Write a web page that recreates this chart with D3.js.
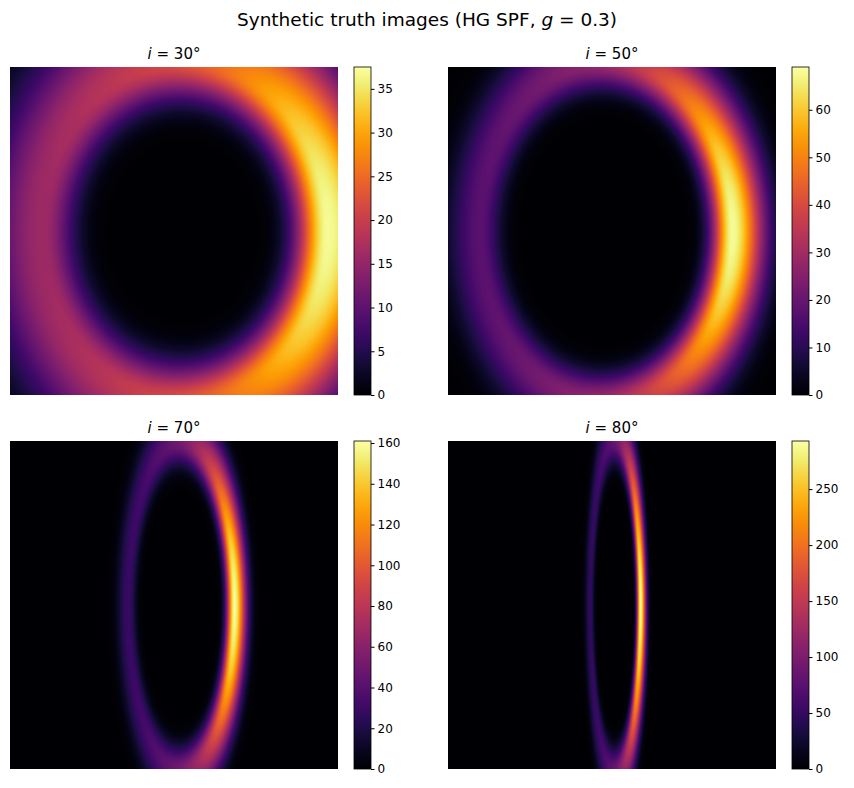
<!DOCTYPE html>
<html><head><meta charset="utf-8">
<script src="https://cdn.jsdelivr.net/npm/d3@7"></script>
<style>body{margin:0;background:#fff;font-family:"DejaVu Sans",sans-serif}</style>
</head><body>
<svg id="fig" width="854" height="788"></svg>
<script>
// Panel data
const inclinations = [30, 50, 70, 80];
const colorMax = [37.5, 69, 161, 293];
const tickStep = [5, 10, 20, 50];
const ringCenterX = [175, 158, 171, 167];   // image pixels from left edge
const ringSemiX = [142, 126, 53, 25];
const ringSemiY = [170, 170, 164, 166];
const ringWidthIn = [0.15, 0.11, 0.1, 0.1];
const ringWidthOut = [0.28, 0.17, 0.15, 0.15];
const asymmetryG = 0.3;

const svg = d3.select('#fig');
const size = 328;
const panelX = [10, 448, 10, 448];
const panelY = [67, 67, 441, 441];

svg.append('text').attr('x', 427).attr('y', 26).attr('text-anchor', 'middle')
    .style('font-size', '18.5px')
    .html('Synthetic truth images (HG SPF, <tspan font-style="italic">g</tspan> = 0.3)');

const defs = svg.append('defs');
const grad = defs.append('linearGradient').attr('id', 'cb')
    .attr('x1', 0).attr('y1', 1).attr('x2', 0).attr('y2', 0);
d3.range(0, 1.0001, 0.05).forEach(t => grad.append('stop')
    .attr('offset', t).attr('stop-color', d3.interpolateInferno(t)));

inclinations.forEach((inc, k) => {
    const canvas = document.createElement('canvas');
    canvas.width = size; canvas.height = size;
    const ctx = canvas.getContext('2d');
    const img = ctx.createImageData(size, size);
    const sinI = Math.sin(inc * Math.PI / 180);
    const g = asymmetryG;
    const hg = c => (1 - g * g) / Math.pow(1 + g * g - 2 * g * c, 1.5);
    const hgMax = hg(sinI);
    for (let py = 0; py < size; py++) {
        for (let px = 0; px < size; px++) {
            const dx = (px - ringCenterX[k]) / ringSemiX[k];
            const dy = (py - size / 2) / ringSemiY[k];
            const r = Math.sqrt(dx * dx + dy * dy);
            const phi = Math.atan2(dy, dx);
            const s = r < 1 ? ringWidthIn[k] : ringWidthOut[k];
            const radial = Math.exp(-0.5 * ((r - 1) / s) ** 2);
            const v = radial * hg(sinI * Math.cos(phi)) / hgMax;
            const c = d3.rgb(d3.interpolateInferno(Math.min(1, v * 0.985)));
            const o = 4 * (py * size + px);
            img.data[o] = c.r; img.data[o + 1] = c.g; img.data[o + 2] = c.b; img.data[o + 3] = 255;
        }
    }
    ctx.putImageData(img, 0, 0);

    const x0 = panelX[k], y0 = panelY[k];
    svg.append('image').attr('x', x0).attr('y', y0).attr('width', size).attr('height', size)
        .attr('href', canvas.toDataURL());

    svg.append('text').attr('x', x0 + size / 2).attr('y', y0 - 8).attr('text-anchor', 'middle')
        .style('font-size', '15px')
        .html('<tspan font-style="italic">i</tspan> = ' + inc + '°');

    // Colorbar
    const cbx = x0 + 344;
    svg.append('rect').attr('x', cbx).attr('y', y0).attr('width', 17).attr('height', size)
        .attr('fill', 'url(#cb)').attr('stroke', '#000').attr('stroke-width', 0.8);
    const scale = d3.scaleLinear().domain([0, colorMax[k]]).range([y0 + size, y0]);
    const ticks = d3.range(0, colorMax[k] + 0.001, tickStep[k]);
    svg.append('g').attr('transform', 'translate(' + (cbx + 17) + ',0)')
        .call(d3.axisRight(scale).tickValues(ticks).tickFormat(d3.format('d')).tickSize(3.5).tickPadding(3))
        .call(a => a.select('.domain').remove())
        .selectAll('text').style('font-size', '12px').style('font-family', '"DejaVu Sans"');
});
</script>
</body></html>
